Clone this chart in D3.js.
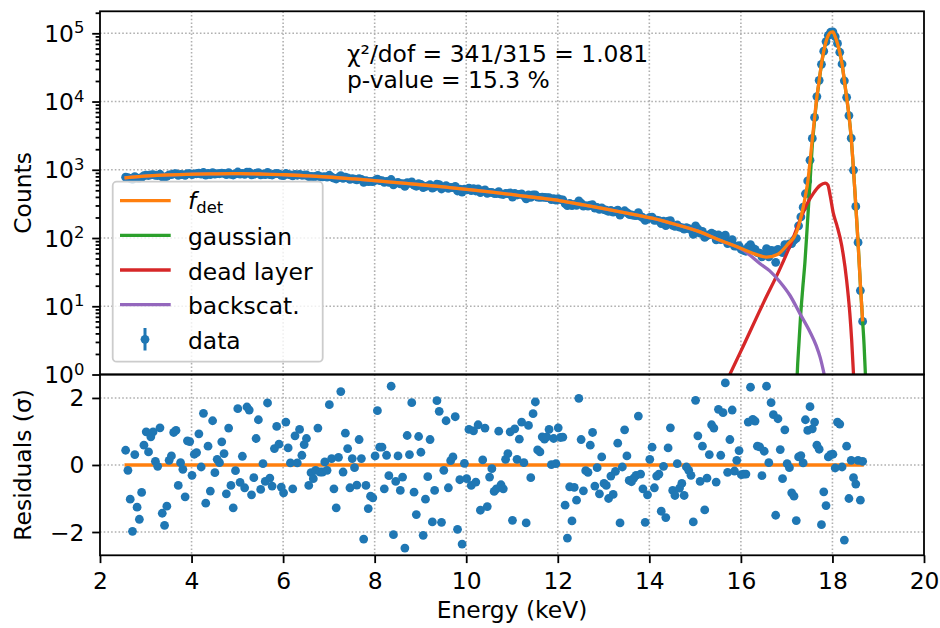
<!DOCTYPE html>
<html>
<head>
<meta charset="utf-8">
<script src="https://cdn.jsdelivr.net/npm/d3@7/dist/d3.min.js"></script>
<style>
body{margin:0;background:#fff}
svg{display:block;font-family:"DejaVu Sans",sans-serif}
</style>
</head>
<body>
<svg id="chart" width="940" height="628"></svg>
<script>
'use strict'
// histogram bins: first bin centre and width (keV)
const binStart=2.56
const binWidth=0.05
const counts=[778,767,747,725,794,755,748,776,821,836,
824,840,847,825,824,860,789,781,801,843,
850,872,876,830,852,849,827,878,879,852,
872,875,892,864,912,834,885,847,910,865,
878,875,894,884,850,908,857,838,871,927,
862,884,855,924,920,845,859,892,907,845,
866,849,915,848,839,869,887,869,830,823,
882,857,841,815,857,831,857,831,837,839,
796,802,794,797,830,789,785,791,779,831,
782,753,733,770,819,749,777,759,723,742,
731,712,744,724,656,694,670,676,670,699,
729,696,692,655,676,656,720,601,637,653,
622,628,570,650,632,666,595,574,628,612,
547,569,581,603,540,559,618,607,523,555,
586,535,550,548,571,489,520,471,522,508,
537,495,527,489,523,461,490,507,452,466,
468,449,447,479,440,434,449,448,457,398,
450,427,436,442,413,374,429,393,428,430,
398,393,397,393,390,390,366,377,360,376,
366,363,320,298,321,299,312,301,351,324,
293,299,294,304,307,275,280,263,277,260,
255,245,253,240,247,256,216,238,251,236,
221,218,215,213,236,208,198,181,189,200,
202,182,183,180,162,176,152,177,180,153,
148,156,144,142,135,142,137,132,113,151,
136,118,125,102,108,112,118,113,94,111,
95,105,110,83,89,95,76,76,77,68,
66,64,74,80,71,68,61,60,53,57,
70,53,66,65,44,68,64,61,80,76,
82,83,93,99,151,204,283,445,687,1381,
2875,5851,11814,20487,35145,54762,75527,93403,103600,104600,
89103,71131,52759,35469,20100,11540,6231,2907,988,290,
86,17,6]
const residuals=[0.44,-0.16,-1.02,-1.98,0.31,-1.26,-1.62,-0.82,0.59,0.99,
0.39,0.84,0.99,0.11,-0.04,1.11,-1.44,-1.80,-1.23,0.14,
0.27,0.97,1.03,-0.61,0.07,-0.13,-0.95,0.72,0.70,-0.31,
0.32,0.37,0.93,-0.06,1.54,-1.14,0.56,-0.78,1.32,-0.23,
0.17,0.07,0.69,0.34,-0.86,1.10,-0.61,-1.28,-0.17,1.68,
-0.52,0.26,-0.68,1.73,1.64,-0.89,-0.38,0.79,1.35,-0.73,
0.04,-0.49,1.85,-0.39,-0.63,0.49,1.15,0.62,-0.66,-0.83,
1.28,0.51,0.06,-0.71,0.87,0.06,1.06,0.29,0.61,0.79,
-0.61,-0.23,-0.41,-0.16,1.10,-0.21,-0.21,0.09,-0.16,1.80,
0.19,-0.71,-1.28,0.23,2.19,-0.21,0.95,0.49,-0.68,0.19,
-0.08,-0.60,0.76,0.19,-2.21,-0.61,-1.30,-0.93,-0.98,0.27,
1.62,0.53,0.53,-0.71,0.29,-0.32,2.35,-2.08,-0.49,0.27,
-0.76,-0.36,-2.48,0.88,0.31,1.86,-0.81,-1.48,0.85,0.38,
-2.10,-1.02,-0.35,0.76,-1.70,-0.76,1.92,1.60,-1.71,-0.16,
1.32,-0.68,0.13,0.24,1.44,-1.92,-0.44,-2.36,0.05,-0.41,
1.06,-0.61,1.02,-0.51,1.20,-1.35,0.15,1.10,-1.24,-0.36,
-0.11,-0.79,-0.71,1.01,-0.59,-0.71,0.17,0.34,0.99,-1.65,
1.08,0.17,0.77,1.28,0.07,-1.73,1.18,-0.38,1.53,1.88,
0.45,0.39,0.84,0.77,0.84,1.06,0.01,0.79,0.04,1.11,
0.82,0.83,-1.20,-2.18,-0.65,-1.67,-0.67,-1.05,1.99,0.76,
-0.77,-0.17,-0.22,0.59,0.97,-0.63,-0.08,-0.86,0.24,-0.55,
-0.61,-1.00,-0.33,-0.88,-0.19,0.65,-1.73,-0.06,1.05,0.27,
-0.46,-0.50,-0.39,-0.31,1.46,-0.27,-0.71,-1.71,-0.89,0.17,
0.53,-0.68,-0.33,-0.27,-1.38,-0.04,-1.57,0.51,1.11,-0.76,
-0.91,0.04,-0.69,-0.55,-0.91,-0.06,-0.16,-0.31,-1.70,1.93,
0.87,-0.49,0.56,-1.34,-0.39,0.31,1.20,1.10,-0.51,1.66,
0.29,1.56,2.45,-0.22,0.76,1.64,-0.18,0.14,0.43,-0.29,
-0.27,-0.27,1.28,2.32,1.36,1.31,0.56,0.54,-0.32,0.41,
2.35,0.07,1.86,1.50,-1.50,1.38,0.46,-0.41,1.05,0.04,
-0.08,-0.83,-0.93,-1.66,0.24,0.28,0.06,1.35,1.03,1.74,
1.08,1.28,0.59,0.47,-1.78,-0.80,-1.21,0.24,0.31,0.32,
-0.09,1.28,1.22,-0.06,-2.24,0.56,-1.00,0.14,-0.38,-0.57,
0.14,-1.05,0.11]
// fitted model and its components
const fitEnergy=[2.535,3.06,3.56,4.06,4.56,5.06,5.56,6.06,6.56,7.06,7.56,8.06,8.56,9.06,9.56,10.06,10.56,11.06,11.56,12.06,12.56,13.06,13.56,14.06,14.56,15.06,15.56,16.06,16.31,16.56,16.81,17.06,17.16,17.26,17.31,17.36,17.41,17.46,17.51,17.56,17.61,17.66,17.71,17.76,17.81,17.86,17.91,17.96,18.01,18.06,18.11,18.16,18.21,18.26,18.31,18.36,18.41,18.46,18.51,18.56,18.61,18.66]
const fitCounts=[763,813,842,863,873,877,865,845,813,777,733,687,641,598,555,513,470,428,389,351,306,265,228,195,159,126,92,68,58,52.5,58,86,102,148,200,282,417,661,1318,2818,5754,11750,20420,35480,54950,75860,93330,103500,104500,89130,70790,52480,35480,20420,11480,6310,2900,1000,300,85,21,6]
const gaussEnergy=[17.21,17.23,17.27,17.30,17.35,17.40,17.45,17.51,17.56,17.61,17.66,17.71,17.76,17.81,17.86,17.91,17.96,18.01,18.06,18.11,18.16,18.21,18.26,18.31,18.36,18.41,18.46,18.51,18.56,18.61,18.66,18.69,18.72,18.75]
const gaussCounts=[0.4,1.0,3.0,6.5,18,45,150,650,2300,5300,11300,19900,34900,54400,75300,92800,103000,104000,88800,70600,52400,35450,20410,11475,6308,2899,999,300,85,21,6,2.8,1.0,0.4]
const deadEnergy=[15.60,16.0,16.5,16.85,17.1,17.29,17.45,17.58,17.73,17.84,17.90,17.95,18.02,18.10,18.20,18.31,18.38,18.42,18.46,18.50]
const deadCounts=[0.6,2.2,11.5,35,85,182,320,447,590,638,600,420,229,151,79,24,7.8,3.2,1.0,0.3]
const backEnergy=[2.535,3.06,3.56,4.06,4.56,5.06,5.56,6.06,6.56,7.06,7.56,8.06,8.56,9.06,9.56,10.06,10.56,11.06,11.56,12.06,12.56,13.06,13.56,14.06,14.56,15.06,15.56,16.06,16.2,16.42,16.63,16.85,17.07,17.29,17.51,17.65,17.73,17.82,17.88]
const backCounts=[763,813,842,863,873,877,865,845,813,777,733,687,641,598,555,513,470,428,389,351,306,265,228,195,159,126,91,66,56,42,33,22.9,14.5,7.8,4.2,2.6,1.8,1.0,0.63]
const zeroEnergy=[2.535,18.685]
const zeroValue=[0,0]
const xTicks=[2,4,6,8,10,12,14,16,18,20]
const countTicks=[1,10,100,1000,10000,100000]
const residTicks=[-2,0,2]
const fitText=["χ²/dof = 341/315 = 1.081","p-value = 15.3 %"]
const legendLabels=["gaussian","dead layer","backscat."]

const blue="#1f77b4",orange="#ff7f0e",green="#2ca02c",red="#d62728",purple="#9467bd"
const fs=23.4
const left=100,right=924,topY=11.3,midY=374.5,botY=555.3
const lw=3.3,spineW=1.8,tickMajor=7.8,tickMinor=4.4,dotR=4.4

const svg=d3.select("#chart")
const x=d3.scaleLinear().domain([2,20]).range([left,right])
const yTop=d3.scaleLog().domain([1,2.1e5]).range([midY,topY])
const yRes=d3.scaleLinear().domain([-2.695,2.70]).range([botY,midY])

const defs=svg.append("defs")
defs.append("clipPath").attr("id","clipTop").append("rect").attr("x",left).attr("y",topY).attr("width",right-left).attr("height",midY-topY)
defs.append("clipPath").attr("id","clipRes").append("rect").attr("x",left).attr("y",midY).attr("width",right-left).attr("height",botY-midY)

let points=counts.map(function(c,i){return{e:binStart+i*binWidth,c:c,r:residuals[i]}})

function grid(g,y0,y1,hv,ys){
g.selectAll(".gx").data(xTicks.slice(1,-1)).enter().append("line").attr("x1",d=>x(d)).attr("x2",d=>x(d)).attr("y1",y0).attr("y2",y1)
g.selectAll(".gy").data(hv).enter().append("line").attr("x1",left).attr("x2",right).attr("y1",d=>ys(d)).attr("y2",d=>ys(d))
g.selectAll("line").attr("stroke","#b0b0b0").attr("stroke-width",1.6).attr("stroke-dasharray","1.6,2.1")}

// ---- top panel
let gTop=svg.append("g")
grid(gTop.append("g"),topY,midY,countTicks.slice(1),yTop)
let plotTop=gTop.append("g").attr("clip-path","url(#clipTop)")
plotTop.selectAll("circle").data(points).enter().append("circle").attr("cx",d=>x(d.e)).attr("cy",d=>yTop(d.c)).attr("r",dotR).attr("fill",blue)
let line=d3.line().x(d=>x(d[0])).y(d=>yTop(d[1])).curve(d3.curveMonotoneX)
function curve(es,vs,col){plotTop.append("path").datum(d3.zip(es,vs)).attr("d",line).attr("fill","none").attr("stroke",col).attr("stroke-width",lw).attr("stroke-linejoin","round")}
curve(gaussEnergy,gaussCounts,green)
curve(deadEnergy,deadCounts,red)
curve(backEnergy,backCounts,purple)
curve(fitEnergy,fitCounts,orange)

let minor=[]
for(let k=0;k<6;k++)for(let m=2;m<10;m++){let v=m*Math.pow(10,k);if(v<2.1e5)minor.push(v)}
gTop.append("g").attr("transform","translate("+left+",0)").call(d3.axisLeft(yTop).tickValues(minor).tickSize(tickMinor).tickFormat(""))
let axTop=gTop.append("g").attr("transform","translate("+left+",0)").call(d3.axisLeft(yTop).tickValues(countTicks).tickSize(tickMajor).tickPadding(7.8).tickFormat(""))
axTop.selectAll(".tick text").each(function(d){let t=d3.select(this).attr("dy",8)
t.append("tspan").text("10")
t.append("tspan").attr("dy",-8.5).attr("font-size",16.4).text(Math.round(Math.log10(d)))})

// ---- residual panel
let gRes=svg.append("g")
grid(gRes.append("g"),midY,botY,residTicks,yRes)
let plotRes=gRes.append("g").attr("clip-path","url(#clipRes)")
plotRes.append("path").datum(d3.zip(zeroEnergy,zeroValue)).attr("d",d3.line().x(d=>x(d[0])).y(d=>yRes(d[1]))).attr("stroke",orange).attr("stroke-width",lw).attr("fill","none")
plotRes.selectAll("circle").data(points).enter().append("circle").attr("cx",d=>x(d.e)).attr("cy",d=>yRes(d.r)).attr("r",dotR).attr("fill",blue)
gRes.append("g").attr("transform","translate("+left+",0)").call(d3.axisLeft(yRes).tickValues(residTicks).tickSize(tickMajor).tickPadding(7.8).tickFormat(d=>d<0?"\u2212"+Math.abs(d):d)).selectAll("text").attr("dy",8)
gRes.append("g").attr("transform","translate(0,"+botY+")").call(d3.axisBottom(x).tickValues(xTicks).tickSize(tickMajor).tickFormat(d3.format("d"))).selectAll("text").attr("y",34).attr("dy",0)

svg.selectAll(".domain").remove()
svg.selectAll(".tick line").attr("stroke","#000").attr("stroke-width",spineW)
svg.selectAll(".tick text").attr("font-size",fs).attr("fill","#000").attr("font-family","DejaVu Sans")

// spines
svg.append("rect").attr("x",left).attr("y",topY).attr("width",right-left).attr("height",midY-topY).attr("fill","none").attr("stroke","#000").attr("stroke-width",spineW)
svg.append("rect").attr("x",left).attr("y",midY).attr("width",right-left).attr("height",botY-midY).attr("fill","none").attr("stroke","#000").attr("stroke-width",spineW)

// labels
svg.append("text").attr("transform","translate(31,"+((topY+midY)/2)+")rotate(-90)").attr("text-anchor","middle").attr("font-size",fs).text("Counts")
svg.append("text").attr("transform","translate(31,"+((midY+botY)/2)+")rotate(-90)").attr("text-anchor","middle").attr("font-size",fs).text("Residuals (σ)")
svg.append("text").attr("x",(left+right)/2).attr("y",618).attr("text-anchor","middle").attr("font-size",fs).text("Energy (keV)")
svg.selectAll(".fittext").data(fitText).enter().append("text").attr("x",347).attr("y",(d,i)=>61.7+i*26.5).attr("font-size",fs).text(d=>d)

// legend
let lg=svg.append("g")
lg.append("rect").attr("x",112.7).attr("y",181.7).attr("width",210).attr("height",180).attr("rx",4).attr("fill","#fff").attr("fill-opacity",0.8).attr("stroke","#cccccc").attr("stroke-width",1.8)
let rowY=[200.7,235.4,270,304.6,339.3]
let handles=[orange,green,red,purple]
handles.forEach(function(c,i){lg.append("line").attr("x1",120).attr("x2",170.7).attr("y1",rowY[i]).attr("y2",rowY[i]).attr("stroke",c).attr("stroke-width",lw)})
lg.append("line").attr("x1",145).attr("x2",145).attr("y1",328).attr("y2",350.5).attr("stroke",blue).attr("stroke-width",3)
lg.append("circle").attr("cx",145).attr("cy",rowY[4]).attr("r",dotR).attr("fill",blue)
let fl=lg.append("text").attr("x",188).attr("y",209).attr("font-size",fs)
fl.append("tspan").attr("font-style","italic").text("f")
fl.append("tspan").attr("font-size",16.4).attr("dy",3.8).text("det")
legendLabels.concat(["data"]).forEach(function(s,i){lg.append("text").attr("x",188).attr("y",rowY[i+1]+9.5).attr("font-size",fs).text(s)})
</script>
</body>
</html>
